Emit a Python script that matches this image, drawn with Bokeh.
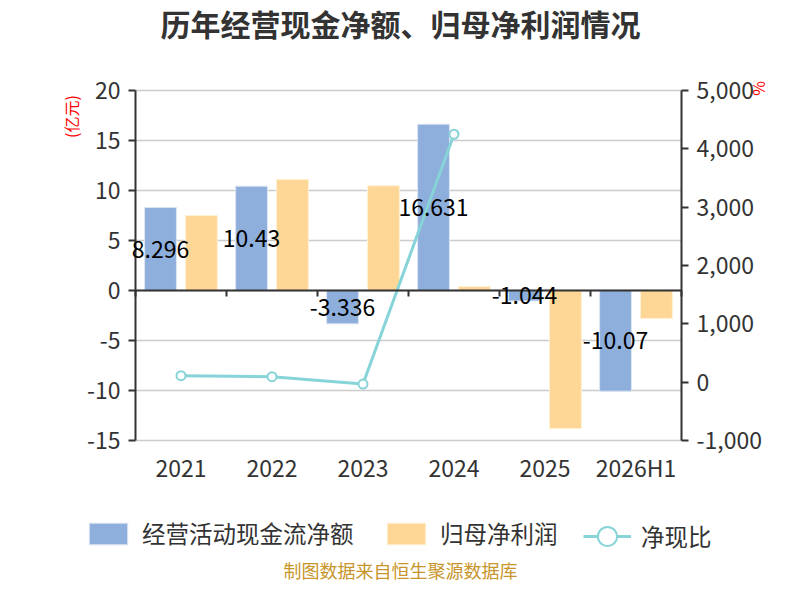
import math
from bokeh.plotting import figure
from bokeh.models import (Range1d, LinearAxis, FixedTicker, NumeralTickFormatter,
                          ColumnDataSource, LabelSet, Label, Legend, LegendItem, Grid)
from bokeh.embed import file_html
from bokeh.resources import INLINE
from bokeh.core.properties import value

# ---------------- data ----------------
categories = ["2021", "2022", "2023", "2024", "2025", "2026H1"]
cash_flow = [8.296, 10.43, -3.336, 16.631, -1.044, -10.07]        # 经营活动现金流净额 (亿元)
net_profit = [7.5, 11.1, 10.47, 0.39, -13.8, -2.8]                 # 归母净利润 (亿元)
cash_ratio = [112, 94, -32, 4250, float("nan"), float("nan")]     # 净现比 (%)
left_ticks = [-15, -10, -5, 0, 5, 10, 15, 20]
right_ticks = [-1000, 0, 1000, 2000, 3000, 4000, 5000]

title_text = "历年经营现金净额、归母净利润情况"
series_names = ["经营活动现金流净额", "归母净利润", "净现比"]
left_unit = "(亿元)"
right_unit = "%"
footer_text = "制图数据来自恒生聚源数据库"

# ---------------- layout / style ----------------
FONT = "Noto Sans CJK SC"
BLUE = "#8eaedb"
ORANGE = "#fed796"
TEAL = "#86d3d8"
AXIS = "#333333"

W, H = 784, 584
FL, FR, FT, FB = 135, 681, 90, 440      # plot area in canvas pixels
n = len(categories)

# ranges chosen so that the plot area lands at FL..FR / FT..FB while the frame fills the canvas
xu = n / (FR - FL)
x_range = Range1d(-FL * xu, n + (W - FR) * xu)
lmin, lmax = left_ticks[0], left_ticks[-1]
lu = (lmax - lmin) / (FB - FT)
y_range = Range1d(lmin - (H - FB) * lu, lmax + FT * lu)
rmin, rmax = right_ticks[0], right_ticks[-1]
ru = (rmax - rmin) / (FB - FT)
r_range = Range1d(rmin - (H - FB) * ru, rmax + FT * ru)

p = figure(width=W, height=H, output_backend="svg", toolbar_location=None,
           x_range=x_range, y_range=y_range, x_axis_type=None, y_axis_type=None,
           min_border=0, min_border_left=0, min_border_right=0, min_border_top=0, min_border_bottom=0)
p.extra_y_ranges = {"r": r_range}
p.outline_line_color = None
p.title.visible = False

def style_axis(ax):
    ax.axis_line_color = AXIS
    ax.axis_line_width = 2
    ax.major_tick_line_color = AXIS
    ax.major_tick_line_width = 2
    ax.major_tick_in = 0
    ax.major_tick_out = 7
    ax.minor_tick_line_color = None
    ax.major_label_text_font = FONT
    ax.major_label_text_font_size = "23px"
    ax.major_label_text_color = AXIS
    ax.major_label_standoff = 8

left_axis = LinearAxis(fixed_location=0, bounds=(lmin, lmax), ticker=FixedTicker(ticks=left_ticks),
                       formatter=NumeralTickFormatter(format="0"))
style_axis(left_axis)
p.add_layout(left_axis, "left")

right_axis = LinearAxis(fixed_location=n, y_range_name="r", bounds=(rmin, rmax),
                        ticker=FixedTicker(ticks=right_ticks), formatter=NumeralTickFormatter(format="0,0"))
style_axis(right_axis)
p.add_layout(right_axis, "right")

centers = [i + 0.5 for i in range(n)]
cat_axis = LinearAxis(fixed_location=lmin, bounds=(0, n), ticker=FixedTicker(ticks=centers),
                      major_label_overrides={c: cat for c, cat in zip(centers, categories)})
style_axis(cat_axis)
cat_axis.axis_line_color = None
cat_axis.major_tick_line_color = None
cat_axis.major_tick_out = 0
cat_axis.major_label_standoff = 9
p.add_layout(cat_axis, "below")

bounds_ticks = list(range(n + 1))
zero_axis = LinearAxis(fixed_location=0, bounds=(0, n), ticker=FixedTicker(ticks=bounds_ticks),
                       major_label_overrides={t: "" for t in bounds_ticks})
style_axis(zero_axis)
zero_axis.major_tick_out = 6
p.add_layout(zero_axis, "below")

try:
    grid = Grid(dimension=1, ticker=FixedTicker(ticks=left_ticks), bounds=(lmin, lmax),
                cross_bounds=(0, n), grid_line_color="#cccccc", grid_line_width=1.5)
except Exception:
    grid = Grid(dimension=1, ticker=FixedTicker(ticks=left_ticks), bounds=(lmin, lmax),
                grid_line_color="#cccccc", grid_line_width=1.5)
p.add_layout(grid)

# bars, line
off, bw = 0.225, 0.35
src = ColumnDataSource(dict(
    x_cf=[c - off for c in centers], cf=cash_flow, cf_mid=[v / 2 for v in cash_flow],
    cf_lab=[str(v) for v in cash_flow],
    x_np=[c + off for c in centers], np_=net_profit,
    xc=centers, ratio=cash_ratio,
))
r_cf = p.vbar(x="x_cf", top="cf", bottom=0, width=bw, source=src,
              fill_color=BLUE, line_color="#dbe5f3", line_width=1)
r_np = p.vbar(x="x_np", top="np_", bottom=0, width=bw, source=src,
              fill_color=ORANGE, line_color="#fff0d4", line_width=1)
r_line = p.line(x="xc", y="ratio", source=src, y_range_name="r", line_color=TEAL, line_width=3)
r_pts = p.scatter(x="xc", y="ratio", source=src, y_range_name="r", marker="circle", size=9,
                  fill_color="white", line_color=TEAL, line_width=2)

p.add_layout(LabelSet(x="x_cf", y="cf_mid", text="cf_lab", source=src, text_align="center",
                      text_baseline="middle", text_font=value(FONT), text_font_size="23px",
                      text_color="#000000"))

# legends (positions in canvas pixels, measured from the bottom-left)
def make_legend(item, x, y, gh):
    lg = Legend(items=[item], location=(x, y), orientation="horizontal",
                glyph_width=48, glyph_height=gh, label_standoff=10, spacing=0,
                padding=0, margin=0, border_line_color=None, background_fill_alpha=0,
                label_text_font=FONT, label_text_font_size="23.5px", label_text_color=AXIS,
                label_height=27)
    p.add_layout(lg, "center")

make_legend(LegendItem(label=series_names[0], renderers=[r_cf]), 84, H - 550, 27)
make_legend(LegendItem(label=series_names[1], renderers=[r_np]), 382, H - 550, 27)
make_legend(LegendItem(label=series_names[2], renderers=[r_line, r_pts]), 583, H - 560, 48)

# texts
def add_text(txt, x, y, size, color, bold=False, angle=0.0):
    p.add_layout(Label(x=x, y=H - y, x_units="screen", y_units="screen", text=txt, angle=angle,
                       text_align="center", text_baseline="middle", text_font=FONT,
                       text_font_size=size, text_font_style="bold" if bold else "normal",
                       text_color=color))

add_text(title_text, 400, 22, "30px", AXIS, bold=True)
add_text(left_unit, 70, 116, "16px", "#ff0000", angle=math.pi / 2)
add_text(right_unit, 757, 88, "16px", "#ff0000", angle=math.pi / 2)
add_text(footer_text, 400, 569, "18px", "#c8952b")

open("out.html", "w").write(file_html(p, INLINE))
